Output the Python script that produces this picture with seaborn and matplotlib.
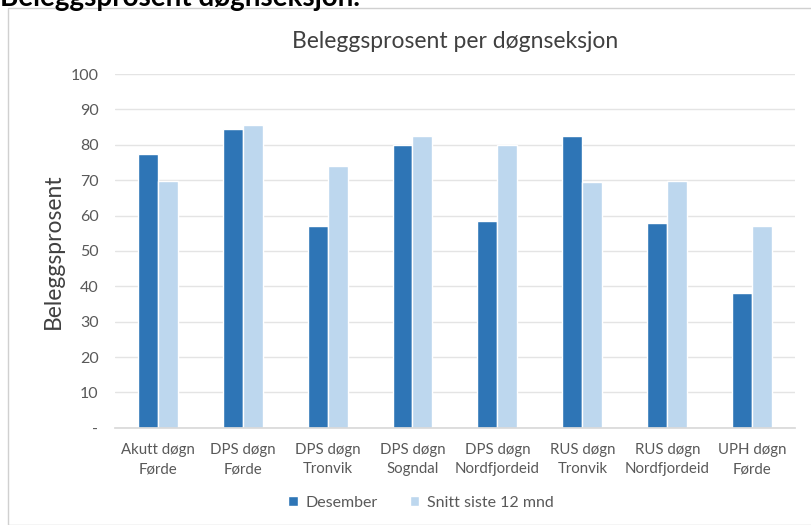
import pandas as pd
import seaborn as sns
import matplotlib.pyplot as plt
from matplotlib.patches import Rectangle

# data
seksjoner = [
    "Akutt døgn\nFørde",
    "DPS døgn\nFørde",
    "DPS døgn\nTronvik",
    "DPS døgn\nSogndal",
    "DPS døgn\nNordfjordeid",
    "RUS døgn\nTronvik",
    "RUS døgn\nNordfjordeid",
    "UPH døgn\nFørde",
]
desember = [77.4, 84.5, 57.1, 80.0, 58.5, 82.5, 58.0, 38.1]
snitt_12 = [69.8, 85.6, 74.0, 82.5, 80.0, 69.5, 69.8, 57.1]
serier = ["Desember", "Snitt siste 12 mnd"]
yticks = [0, 10, 20, 30, 40, 50, 60, 70, 80, 90, 100]
ytick_labels = ["-", "10", "20", "30", "40", "50", "60", "70", "80", "90", "100"]

df = pd.DataFrame({
    "seksjon": seksjoner * 2,
    "prosent": desember + snitt_12,
    "serie": [serier[0]] * len(seksjoner) + [serier[1]] * len(seksjoner),
})

sns.set_theme(style="white")
plt.rcParams["font.family"] = ["Lato", "DejaVu Sans"]
grey = "#595959"

fig = plt.figure(figsize=(8.11, 5.25), dpi=100)
ax = fig.add_axes([0.142, 0.185, 0.838, 0.674])

sns.barplot(
    data=df, x="seksjon", y="prosent", hue="serie",
    palette=["#2E75B6", "#BDD7EE"], width=0.47, saturation=1,
    gap=0, ax=ax, legend=True,
)

ax.set_ylim(0, 100)
ax.set_yticks(yticks)
ax.set_yticklabels(ytick_labels)
ax.yaxis.grid(True, color="#E4E4E4", linewidth=1)
ax.set_axisbelow(True)
for s in ["top", "right", "left"]:
    ax.spines[s].set_visible(False)
ax.spines["bottom"].set_color("#D9D9D9")
ax.tick_params(axis="y", colors=grey, labelsize=11.5, length=0, pad=12)
ax.tick_params(axis="x", colors=grey, labelsize=10.8, length=0, pad=11)
for lab in ax.get_xticklabels():
    lab.set_linespacing(1.45)
ax.set_xlabel("")
ax.set_ylabel("Beleggsprosent", fontsize=16.5, color="#404040", labelpad=5)
ax.set_title("Beleggsprosent per døgnseksjon", fontsize=16.5, color="#404040", pad=19)

leg = ax.legend(
    loc="center", bbox_to_anchor=(0.45, -0.212), ncol=2, frameon=False,
    fontsize=11.5, handlelength=0.6, handleheight=0.6, handletextpad=0.5,
    columnspacing=2.0,
)
for t in leg.get_texts():
    t.set_color(grey)

# outer chart frame and the heading above it, which the crop cuts through
fig.patches.append(Rectangle((8 / 811, 0), 1, 1 - 8 / 525, transform=fig.transFigure,
                             fill=False, edgecolor="#D0D0D0", linewidth=1))
fig.text(0.0, 1 - 6 / 525, "Beleggsprosent døgnseksjon.", fontsize=20,
         fontweight="bold", color="black", va="baseline", ha="left")

fig.savefig("out.png", dpi=100)
